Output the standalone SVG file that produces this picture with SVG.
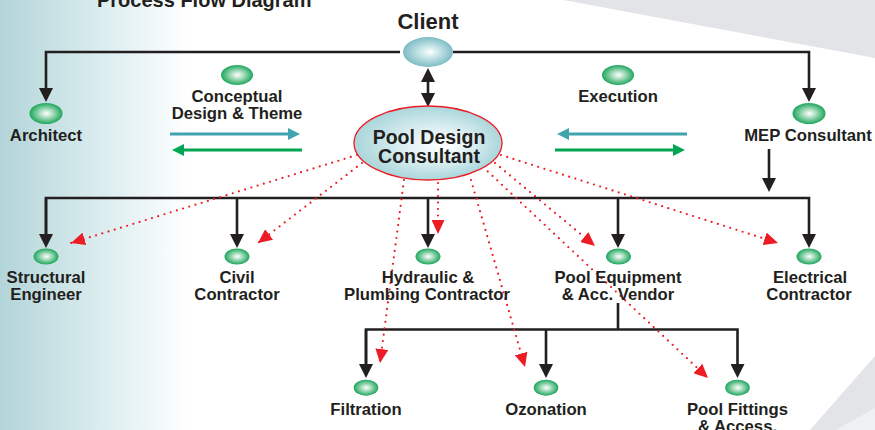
<svg xmlns="http://www.w3.org/2000/svg" width="875" height="430" viewBox="0 0 875 430">
<defs>
<linearGradient id="bgLeft" x1="0" y1="0" x2="1" y2="0">
<stop offset="0" stop-color="#b3d5d9"/>
<stop offset="0.55" stop-color="#dcedef"/>
<stop offset="1" stop-color="#ffffff"/>
</linearGradient>
<radialGradient id="gGreen" cx="50%" cy="50%" r="50%" fx="52%" fy="50%">
<stop offset="0" stop-color="#ffffff"/>
<stop offset="0.3" stop-color="#bfe6cf"/>
<stop offset="1" stop-color="#1ea65c"/>
</radialGradient>
<radialGradient id="gClient" cx="50%" cy="50%" r="50%" fx="55%" fy="50%">
<stop offset="0" stop-color="#ffffff"/>
<stop offset="0.3" stop-color="#d3ebee"/>
<stop offset="1" stop-color="#7dbcc4"/>
</radialGradient>
<radialGradient id="gPdc" cx="50%" cy="50%" r="50%" fx="62%" fy="55%">
<stop offset="0" stop-color="#ffffff"/>
<stop offset="0.4" stop-color="#e3f2f4"/>
<stop offset="1" stop-color="#a9d6db"/>
</radialGradient>
<marker id="ab" markerUnits="userSpaceOnUse" markerWidth="14" markerHeight="14" refX="2" refY="7" orient="auto-start-reverse">
<path d="M0,0 L14,7 L0,14 z" fill="#231f20"/>
</marker>
<marker id="ar" markerUnits="userSpaceOnUse" markerWidth="14" markerHeight="13" refX="14" refY="6.5" orient="auto">
<path d="M0,0 L14,6.5 L0,13 z" fill="#ed1c24"/>
</marker>
<marker id="at" markerUnits="userSpaceOnUse" markerWidth="12" markerHeight="12" refX="2" refY="6" orient="auto">
<path d="M0,0 L12,6 L0,12 z" fill="#3fa4ae"/>
</marker>
<marker id="ag" markerUnits="userSpaceOnUse" markerWidth="12" markerHeight="12" refX="2" refY="6" orient="auto">
<path d="M0,0 L12,6 L0,12 z" fill="#00a651"/>
</marker>
<style>
text { font-family: "Liberation Sans", Arial, sans-serif; font-weight: bold; fill: #231f20; text-anchor: middle; }
.lbl { font-size: 16.7px; }
.blk { fill: none; stroke: #231f20; stroke-width: 2.6; stroke-linejoin: miter; }
.red { fill: none; stroke: #ed1c24; stroke-width: 2.2; stroke-linecap: round; stroke-dasharray: 0 6.5; marker-end: url(#ar); }
.grn { fill: url(#gGreen); }
</style>
</defs>

<g id="background">
<rect x="0" y="0" width="875" height="430" fill="#ffffff"/>
<rect x="0" y="0" width="188" height="430" fill="url(#bgLeft)"/>
<polygon points="563,0 875,0 875,58" fill="#e2e4e7"/>
<polygon points="810,430 875,356 875,430" fill="#e2e4e7"/>
<polygon points="836,430 875,408 875,430" fill="#eef1f2"/>
</g>

<g id="title">
<text x="97" y="7" style="font-size:20px;text-anchor:start">Process Flow Diagram</text>
</g>

<g id="connectors">
<path class="blk" d="M400,52 H46 V90" marker-end="url(#ab)"/>
<path class="blk" d="M453,52 H809 V90" marker-end="url(#ab)"/>
<path class="blk" d="M428,80 V95" marker-start="url(#ab)" marker-end="url(#ab)"/>
<path class="blk" d="M769,149 V180" marker-end="url(#ab)"/>
<path class="blk" d="M46,236 V198 H809 V236" marker-end="url(#ab)"/>
<path class="blk" d="M46,198 V236" marker-end="url(#ab)"/>
<path class="blk" d="M237,198 V236" marker-end="url(#ab)"/>
<path class="blk" d="M428,198 V236" marker-end="url(#ab)"/>
<path class="blk" d="M618,198 V236" marker-end="url(#ab)"/>
<path class="blk" d="M618,303 V329.5"/>
<path class="blk" d="M366,366 V329.5 H737.5 V366" marker-end="url(#ab)"/>
<path class="blk" d="M366,329.5 V366" marker-end="url(#ab)"/>
<path class="blk" d="M546,329.5 V366" marker-end="url(#ab)"/>
<path d="M170,134 H290" stroke="#3fa4ae" stroke-width="3" fill="none" marker-end="url(#at)"/>
<path d="M302,150 H182" stroke="#00a651" stroke-width="3" fill="none" marker-end="url(#ag)"/>
<path d="M687,134 H567" stroke="#3fa4ae" stroke-width="3" fill="none" marker-end="url(#at)"/>
<path d="M555,150 H675" stroke="#00a651" stroke-width="3" fill="none" marker-end="url(#ag)"/>
<path class="red" d="M357,155 L71,243"/>
<path class="red" d="M362,163 L258,243"/>
<path class="red" d="M404,180 L380,363"/>
<path class="red" d="M438,183 L438,234"/>
<path class="red" d="M471,180 L525,367"/>
<path class="red" d="M495,163 L595,246"/>
<path class="red" d="M483,167 L708,378"/>
<path class="red" d="M501,155 L778,243"/>
</g>

<g id="client">
<text x="428" y="29" style="font-size:22px">Client</text>
<ellipse cx="428" cy="52" rx="25" ry="15" fill="url(#gClient)"/>
</g>

<g id="pool-design-consultant">
<ellipse cx="428" cy="143" rx="74" ry="37" fill="url(#gPdc)" stroke="#ed1c24" stroke-width="1.3"/>
<text x="429" y="144" style="font-size:19.5px">Pool Design</text>
<text x="429" y="163" style="font-size:19.5px">Consultant</text>
</g>

<g id="architect">
<ellipse class="grn" cx="46" cy="113.5" rx="16.5" ry="10.5"/>
<text class="lbl" x="46" y="141">Architect</text>
</g>

<g id="conceptual">
<ellipse class="grn" cx="237" cy="75" rx="16" ry="10"/>
<text class="lbl" x="237" y="102">Conceptual</text>
<text class="lbl" x="237" y="119">Design &amp; Theme</text>
</g>

<g id="execution">
<ellipse class="grn" cx="618" cy="75" rx="16" ry="10"/>
<text class="lbl" x="618" y="102">Execution</text>
</g>

<g id="mep-consultant">
<ellipse class="grn" cx="809" cy="113.5" rx="16.5" ry="10.5"/>
<text class="lbl" x="808" y="141">MEP Consultant</text>
</g>

<g id="structural-engineer">
<ellipse class="grn" cx="46" cy="256.5" rx="12.5" ry="8"/>
<text class="lbl" x="46" y="283">Structural</text>
<text class="lbl" x="46" y="300">Engineer</text>
</g>

<g id="civil-contractor">
<ellipse class="grn" cx="237" cy="256.5" rx="12.5" ry="8"/>
<text class="lbl" x="237" y="283">Civil</text>
<text class="lbl" x="237" y="300">Contractor</text>
</g>

<g id="hydraulic-plumbing">
<ellipse class="grn" cx="428" cy="256.5" rx="12.5" ry="8"/>
<text class="lbl" x="428" y="283">Hydraulic &amp;</text>
<text class="lbl" x="427" y="300">Plumbing Contractor</text>
</g>

<g id="pool-equipment">
<ellipse class="grn" cx="618.5" cy="256.5" rx="12.5" ry="8"/>
<text class="lbl" x="618" y="283">Pool Equipment</text>
<text class="lbl" x="618" y="300">&amp; Acc. Vendor</text>
</g>

<g id="electrical-contractor">
<ellipse class="grn" cx="809" cy="256.5" rx="12.5" ry="8"/>
<text class="lbl" x="810" y="283">Electrical</text>
<text class="lbl" x="809" y="300">Contractor</text>
</g>

<g id="filtration">
<ellipse class="grn" cx="366" cy="387.7" rx="12.3" ry="8"/>
<text class="lbl" x="366" y="415">Filtration</text>
</g>

<g id="ozonation">
<ellipse class="grn" cx="546" cy="387.7" rx="12.3" ry="8"/>
<text class="lbl" x="546" y="415">Ozonation</text>
</g>

<g id="pool-fittings">
<ellipse class="grn" cx="737.5" cy="387.7" rx="12.3" ry="8"/>
<text class="lbl" x="737.5" y="415">Pool Fittings</text>
<text class="lbl" x="737.5" y="432">&amp; Access.</text>
</g>
</svg>
